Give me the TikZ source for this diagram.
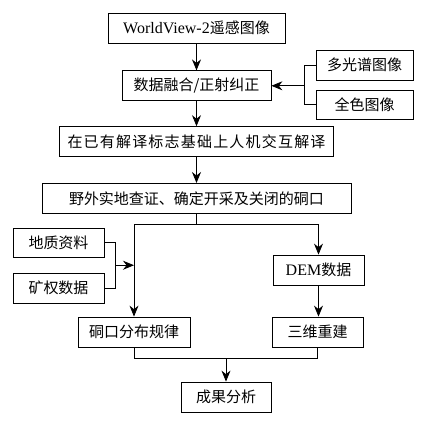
\documentclass[tikz,border=0pt]{standalone}
\usepackage{fontspec}
\setmainfont{Liberation Serif}
\newfontfamily\cjk{Noto Sans CJK SC}
\newfontfamily\cjkwide[LetterSpace=8]{Noto Sans CJK SC}
\usetikzlibrary{positioning,arrows.meta,calc}

\begin{document}
\begin{tikzpicture}[x=1pt,y=1pt,node distance=26pt,>={Stealth[length=11pt,width=9pt]},thick]
\tikzstyle{block}=[rectangle,draw,inner sep=0pt,minimum height=30pt,font=\cjk\fontsize{15}{18}\selectfont]
\useasboundingbox (0,0) rectangle (424,423);
\node[block,minimum width=177pt] (W) at (196.5,395) {{\rmfamily\fontsize{16}{18}\selectfont WorldView-2}遥感图像};
\node[block,minimum width=149pt,below=27pt of W] (F) {数据融合/正射纠正};
\node[block,minimum width=274pt,below=25pt of F] (I) {\cjkwide 在已有解译标志基础上人机交互解译};
\node[block,minimum width=309pt,below=of I] (Y) {野外实地查证、确定开采及关闭的硐口};
\node[block,minimum width=97pt] (M) at (364.5,358) {多光谱图像};
\node[block,minimum width=97pt,minimum height=29pt] (P) at (364.5,318.5) {全色图像};
\node[block,minimum width=91pt,minimum height=29pt] (G) at (58.5,180.5) {地质资料};
\node[block,minimum width=91pt] (R) at (58.5,135) {矿权数据};
\node[block,minimum width=91pt] (DEM) at (318.5,153) {{\rmfamily\fontsize{16}{18}\selectfont DEM}数据};
\node[block,minimum width=112pt] (D) at (134,91) {硐口分布规律};
\node[block,minimum width=91pt] (T) at (317.5,91) {三维重建};
\node[block,minimum width=90pt] (C) at (226,26) {成果分析};

\draw[->] (W) -- (F);
\draw[->] (F) -- (I);
\draw[->] (I) -- (Y);
% image sources
\draw (M.west) -- ++(-11,0) coordinate (mj) |- (P.west);
\draw[->] (mj |- F.east) -- (F.east);
% field check branches
\draw (Y.south) -- ++(0,-11) coordinate (yj);
\draw (D.north |- yj) -- (DEM.north |- yj);
\draw[->] (DEM.north |- yj) -- (DEM.north);
\draw[->] (D.north |- yj) -- (D.north);
\draw (G.east) -- ++(11,0) coordinate (gj) |- (R.east);
\path ($(G.east)!0.5!(R.east)$) coordinate (gr);
\draw[->] (gr -| gj) -- (gr -| D.north);
\draw[->] (DEM.south) -- (DEM.south |- T.north);
% results
\draw (D.south) -- ++(0,-11) coordinate (dj) -| (T.south);
\draw[->] (C.north |- dj) -- (C.north);
\end{tikzpicture}
\end{document}
